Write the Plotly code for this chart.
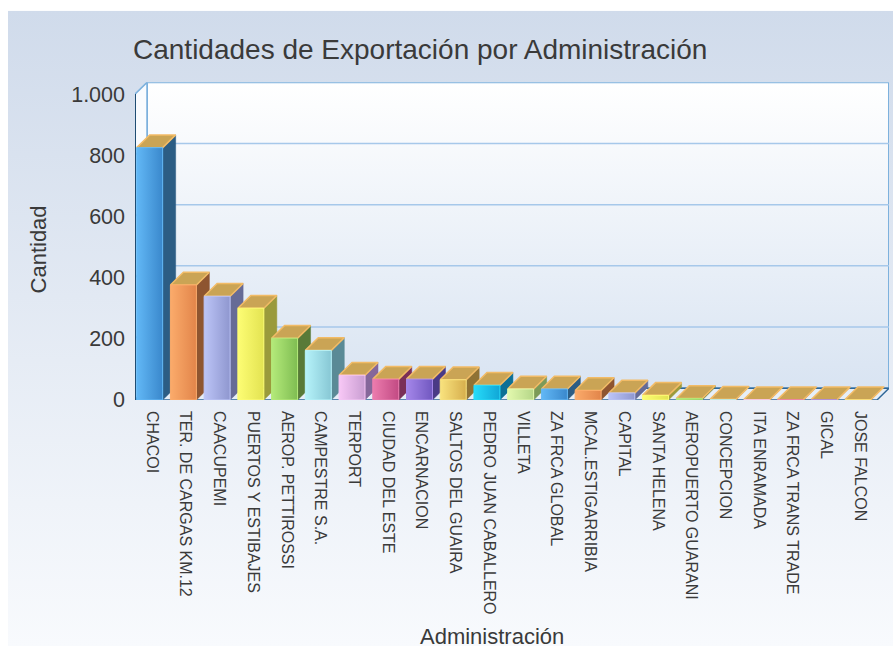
import plotly.graph_objects as go

# ---------------- data ----------------
categories = [
    "CHACOI", "TER. DE CARGAS KM.12", "CAACUPEMI", "PUERTOS Y ESTIBAJES",
    "AEROP. PETTIROSSI", "CAMPESTRE S.A.", "TERPORT", "CIUDAD DEL ESTE",
    "ENCARNACION", "SALTOS DEL GUAIRA", "PEDRO JUAN CABALLERO", "VILLETA",
    "ZA FRCA GLOBAL", "MCAL.ESTIGARRIBIA", "CAPITAL", "SANTA HELENA",
    "AEROPUERTO GUARANI", "CONCEPCION", "ITA ENRAMADA", "ZA FRCA TRANS TRADE",
    "GICAL", "JOSE FALCON",
]
values = [825, 376, 339, 300, 202, 162, 81, 68, 68, 66, 48, 36,
          36, 31, 23, 15, 5, 2, 1, 1, 1, 1]
y_tick_values = [0, 200, 400, 600, 800, 1000]
y_tick_labels = ["0", "200", "400", "600", "800", "1.000"]

palette_light = ["#62b8f6", "#fbab6b", "#bcc4f7", "#fdfd74", "#b4ea7a", "#b6f3fa",
                 "#f8c8f6", "#ec7cae", "#a587ea", "#f9e37e", "#27dcfa", "#e3f9ae"]
palette_dark = ["#3a88cc", "#e2854a", "#8f97cf", "#e3e352", "#7fbd52", "#87c7d4",
                "#c99ed2", "#c24a83", "#7158c0", "#d6ae4d", "#10a6d6", "#b5d688"]
palette_side = ["#2c5d84", "#8e5530", "#666b96", "#9a9a3c", "#587a38", "#5a8a96",
                "#85679a", "#7a3058", "#4a3a86", "#8f7234", "#0e7096", "#7b9a58"]

# ---------------- geometry (page pixels) ----------------
W, H = 893, 659
BG_L, BG_T = 8, 11
PX_L, PX_R = 135, 889      # front-left edge .. back-right edge
PX_T, PX_B = 84, 408       # back-top edge .. front-bottom edge
WALL_DEPTH = 12
BAR_DEPTH = 13
BAR_W = 0.77
BAR_OFF = -0.45


def fx(px):
    return px / W


def fy(py):
    return 1 - py / H


n = len(categories)
ymax = y_tick_values[-1]
ux = (PX_R - WALL_DEPTH - PX_L) / n
uy = (PX_B - PX_T - WALL_DEPTH) / ymax
ddx, ddy = WALL_DEPTH / ux, WALL_DEPTH / uy
bdx, bdy = BAR_DEPTH / ux, BAR_DEPTH / uy
x0, x1 = -0.5, n - 0.5

FONT = "Liberation Sans, Arial, sans-serif"
TXT = "#3a3a3a"

fig = go.Figure()

# background gradient (own subplot, drawn first)
fig.add_trace(go.Scatter(
    x=[0, 1, 1, 0, 0], y=[0, 0, 1, 1, 0], mode="lines", fill="toself",
    fillgradient=dict(type="vertical", colorscale=[[0, "#f8fafd"], [1, "#d0dbeb"]]),
    line=dict(width=0), hoverinfo="skip", xaxis="x", yaxis="y"))


def poly(xs, ys, **kw):
    fig.add_trace(go.Scatter(x=xs, y=ys, mode="lines", hoverinfo="skip",
                             xaxis="x2", yaxis="y2", **kw))


# back wall
poly([x0 + ddx, x1 + ddx, x1 + ddx, x0 + ddx, x0 + ddx],
     [ddy, ddy, ymax + ddy, ymax + ddy, ddy],
     fill="toself",
     fillgradient=dict(type="vertical", colorscale=[[0, "#d9e4f2"], [1, "#ffffff"]]),
     line=dict(color="#7db1dd", width=2))
# left wall
poly([x0, x0 + ddx, x0 + ddx, x0, x0], [0, ddy, ymax + ddy, ymax, 0],
     fill="toself", fillcolor="#f9fbfe", line=dict(color="#7db1dd", width=1.5))
# gridlines on walls
gx, gy = [], []
for v in y_tick_values[1:-1]:
    gx += [x0, x0 + ddx, x1 + ddx, None]
    gy += [v, v + ddy, v + ddy, None]
poly(gx, gy, line=dict(color="#a6c8ea", width=1.5))
# floor
poly([x0, x1, x1 + ddx, x0 + ddx, x0], [0, 0, ddy, ddy, 0],
     fill="toself", fillcolor="#e6eef7", line=dict(color="#2f6798", width=1.5))
# front-left edge
poly([x0, x0], [0, ymax], line=dict(color="#1f4d73", width=2))

# bars
for i, v in enumerate(values):
    k = i % len(palette_light)
    xl = i + BAR_OFF
    xr = xl + BAR_W
    poly([xr, xr + bdx, xr + bdx, xr, xr], [0, bdy, v + bdy, v, 0],
         fill="toself", fillcolor=palette_side[k],
         line=dict(color=palette_side[k], width=0.5))
    poly([xl, xr, xr + bdx, xl + bdx, xl], [v, v, v + bdy, v + bdy, v],
         fill="toself", fillcolor="#caa455", line=dict(color="#f2bb66", width=1.5))
    poly([xl, xr, xr, xl, xl], [0, 0, v, v, 0],
         fill="toself",
         fillgradient=dict(type="horizontal",
                           colorscale=[[0, palette_light[k]], [1, palette_dark[k]]]),
         line=dict(color=palette_light[k], width=1))

fig.update_layout(
    width=W, height=H,
    margin=dict(l=0, r=0, t=0, b=0),
    paper_bgcolor="#ffffff",
    plot_bgcolor="rgba(0,0,0,0)",
    showlegend=False,
    hovermode=False,
    font=dict(family=FONT, color=TXT),
    xaxis=dict(domain=[fx(BG_L), 1], range=[0, 1], visible=False, fixedrange=True),
    yaxis=dict(domain=[0, fy(BG_T)], range=[0, 1], visible=False, fixedrange=True),
    xaxis2=dict(domain=[fx(PX_L), fx(PX_R)], range=[x0, x1 + ddx],
                anchor="y2", showgrid=False, zeroline=False, showline=False,
                tickmode="array", tickvals=list(range(n)), ticktext=categories,
                tickangle=90, ticks="", ticklabelstandoff=10, fixedrange=True,
                tickfont=dict(family=FONT, size=16, color=TXT)),
    yaxis2=dict(domain=[fy(PX_B), fy(PX_T)], range=[0, ymax + ddy],
                anchor="x2", showgrid=False, zeroline=False, showline=False,
                tickmode="array", tickvals=y_tick_values, ticktext=y_tick_labels,
                ticks="", ticklabelstandoff=9, fixedrange=True,
                tickfont=dict(family=FONT, size=21.5, color=TXT)),
    annotations=[
        dict(text="Cantidades de Exportación por Administración", x=fx(420), y=fy(50),
             xref="paper", yref="paper", xanchor="center", yanchor="middle",
             showarrow=False, font=dict(family=FONT, size=28, color=TXT)),
        dict(text="Cantidad", x=fx(38.5), y=fy(255), xref="paper", yref="paper",
             xanchor="center", yanchor="middle", showarrow=False, textangle=-90,
             font=dict(family=FONT, size=22, color=TXT)),
        dict(text="Administración", x=fx(492), y=fy(649), xref="paper", yref="paper",
             xanchor="center", yanchor="middle", showarrow=False,
             font=dict(family=FONT, size=22, color=TXT)),
    ],
)

fig.write_html(
    "out.html",
    config={"displayModeBar": False, "staticPlot": True},
    post_script=(
        "var d=document.getElementById('{plot_id}');"
        "d.style.position='fixed';d.style.left='0px';d.style.top='0px';"
        "document.documentElement.style.overflow='hidden';"
        "document.body.style.overflow='hidden';"
        "document.body.style.margin='0';"
    ),
)
